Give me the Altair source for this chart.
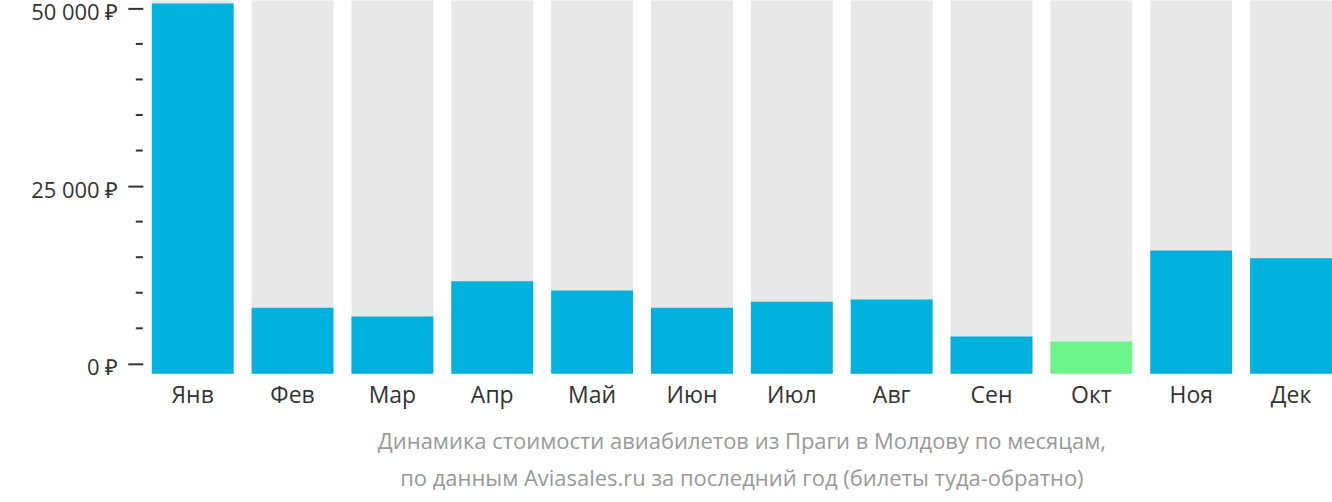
import altair as alt
import pandas as pd

months = ["Янв", "Фев", "Мар", "Апр", "Май", "Июн", "Июл", "Авг", "Сен", "Окт", "Ноя", "Дек"]
prices = [50700, 7900, 6650, 11600, 10300, 7900, 8750, 9050, 3850, 3150, 15950, 14850]
cheapest = "Окт"
major_ticks = [0, 25000, 50000]
minor_ticks = [5000, 10000, 15000, 20000, 30000, 35000, 40000, 45000]
title_lines = [
    "Динамика стоимости авиабилетов из Праги в Молдову по месяцам,",
    "по данным Aviasales.ru за последний год (билеты туда-обратно)",
]

Y_MIN, Y_MAX = -1404, 51124
FONT = "Open Sans"

df = pd.DataFrame({
    "month": months,
    "price": prices,
    "top": [Y_MAX] * len(months),
    "bottom": [Y_MIN] * len(months),
})
ticks_df = pd.DataFrame({"v": minor_ticks})

yscale = alt.Scale(domain=[Y_MIN, Y_MAX], nice=False, zero=False)
xscale = alt.Scale(paddingInner=0.18, paddingOuter=0)

x_enc = alt.X(
    "month:N", sort=months, scale=xscale,
    axis=alt.Axis(title=None, domain=False, ticks=False, labelAngle=0,
                  labelFont=FONT, labelFontSize=23, labelColor="#333333",
                  labelPadding=11),
)

bg = alt.Chart(df).mark_bar(color="#e8e8e8").encode(
    x=x_enc,
    y=alt.Y("top:Q", scale=yscale,
            axis=alt.Axis(title=None, values=major_ticks, domain=False, grid=False,
                          tickSize=15, tickWidth=2, tickColor="#333333", offset=9,
                          labelPadding=10, labelFont=FONT, labelFontSize=22,
                          labelOffset=4, labelColor="#333333",
                          labelExpr="datum.value == 0 ? '0 ₽' : format(datum.value/1000, 'd') + ' 000 ₽'")),
    y2="bottom:Q",
)

bars = alt.Chart(df).mark_bar().encode(
    x=x_enc,
    y=alt.Y("price:Q", scale=yscale),
    y2="bottom:Q",
    color=alt.condition(alt.datum.month == cheapest, alt.value("#6cf389"), alt.value("#00b0dd")),
)

minor = alt.Chart(ticks_df).mark_rule(color="#333333", strokeWidth=2, clip=False).encode(
    y=alt.Y("v:Q", scale=yscale),
    x=alt.value(-16),
    x2=alt.value(-9),
)

chart = alt.layer(bg, bars, minor).properties(
    width=1182,
    height=374,
    autosize=alt.AutoSizeParams(type="none"),
    padding={"left": 152, "top": 0, "right": 0, "bottom": 128},
    title=alt.TitleParams(text=title_lines, orient="bottom", frame="group",
                          anchor="middle", font=FONT, fontSize=22,
                          fontWeight="normal", color="#999999",
                          lineHeight=37, offset=24),
).configure_view(stroke=None)

chart.save("out.html", embed_options={"renderer": "svg", "actions": False})
